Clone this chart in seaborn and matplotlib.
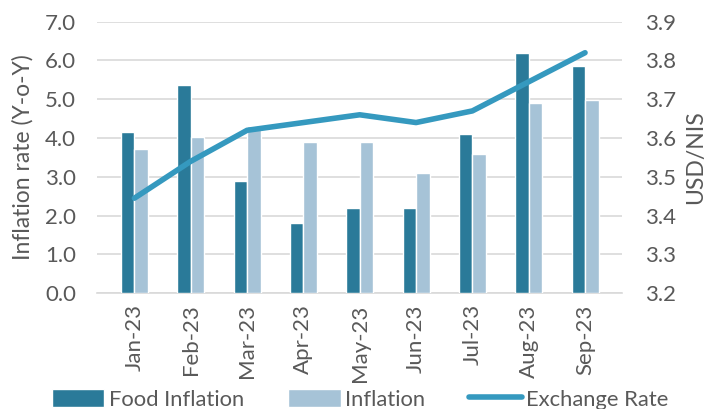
import pandas as pd
import matplotlib.pyplot as plt
import seaborn as sns

# Data
months = ["Jan-23", "Feb-23", "Mar-23", "Apr-23", "May-23", "Jun-23", "Jul-23", "Aug-23", "Sep-23"]
food_inflation = [4.15, 5.38, 2.9, 1.8, 2.2, 2.2, 4.1, 6.2, 5.85]
inflation = [3.72, 4.03, 4.32, 3.9, 3.9, 3.1, 3.6, 4.9, 4.97]
exchange_rate = [3.445, 3.54, 3.62, 3.64, 3.66, 3.64, 3.67, 3.745, 3.82]

TEXT = "#595959"
GRID = "#d9d9d9"
DARK = "#2a7a99"
LIGHT = "#a6c3d7"
LINE = "#3599bf"

sns.set_theme(style="white")
plt.rcParams["font.family"] = ["Lato", "DejaVu Sans"]

df = pd.DataFrame({"month": months, "Food Inflation": food_inflation, "Inflation": inflation})
long = df.melt(id_vars="month", var_name="series", value_name="value")

fig, ax = plt.subplots(figsize=(7.13, 4.09), dpi=100)
fig.subplots_adjust(left=0.136, right=0.873, top=0.947, bottom=0.283)

sns.barplot(data=long, x="month", y="value", hue="series",
            palette=[DARK, LIGHT], width=0.48, gap=0, saturation=1,
            ax=ax, zorder=3)
ax.set_ylim(0, 7)
ax.set_yticks([i * 1.0 for i in range(8)])
ax.set_yticklabels([f"{i:.1f}" for i in range(8)])
ax.yaxis.grid(True, color=GRID, linewidth=1.2, zorder=0)
ax.set_axisbelow(True)
ax.set_xlabel("")
ax.set_ylabel("Inflation rate (Y-o-Y)", fontsize=16.5, color=TEXT, labelpad=8)
ax.tick_params(axis="both", colors=TEXT, labelsize=16, length=0)
ax.tick_params(axis="y", pad=15)
ax.tick_params(axis="x", rotation=90, pad=8)
for s in ax.spines.values():
    s.set_visible(False)
ax.spines["bottom"].set_visible(True)
ax.spines["bottom"].set_color(GRID)
ax.spines["bottom"].set_linewidth(1.2)
ax.legend_.remove()

ax2 = ax.twinx()
sns.lineplot(x=months, y=exchange_rate, color=LINE, linewidth=4,
             ax=ax2, label="Exchange Rate", sort=False)
ax2.set_ylim(3.2, 3.9)
ax2.set_yticks([3.2, 3.3, 3.4, 3.5, 3.6, 3.7, 3.8, 3.9])
ax2.set_yticklabels(["3.2", "3.3", "3.4", "3.5", "3.6", "3.7", "3.8", "3.9"])
ax2.set_ylabel("USD/NIS", fontsize=16.5, color=TEXT, labelpad=7)
ax2.tick_params(axis="y", colors=TEXT, labelsize=16, length=0, pad=16)
for s in ax2.spines.values():
    s.set_visible(False)
ax2.legend_.remove()

h1, l1 = ax.get_legend_handles_labels()
h2, l2 = ax2.get_legend_handles_labels()
fig.legend(h1 + h2, l1 + l2, loc="lower center", bbox_to_anchor=(0.505, -0.05),
           ncol=3, frameon=False, fontsize=15.8, labelcolor=TEXT,
           handlelength=2.4, handleheight=0.9, handletextpad=0.2, columnspacing=2.0)

fig.savefig("out.png", dpi=100)
